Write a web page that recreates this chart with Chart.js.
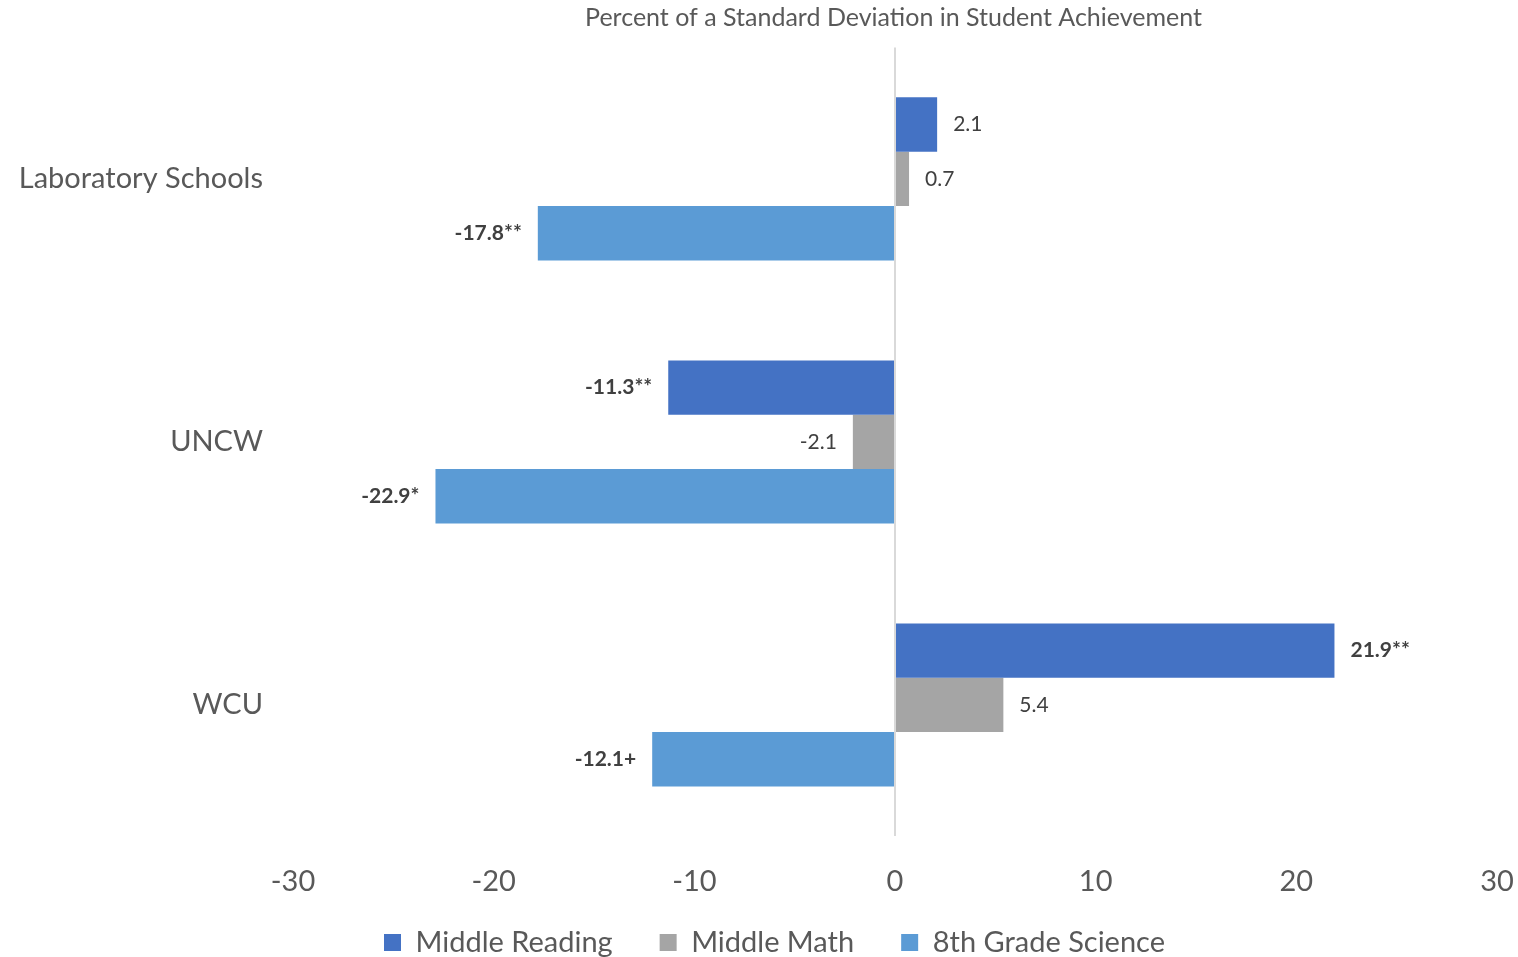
<!DOCTYPE html>
<html>
<head>
<meta charset="utf-8">
<script src="https://cdn.jsdelivr.net/npm/chart.js@4"></script>
<style>
  html, body { margin: 0; padding: 0; background: #fff; overflow: hidden; }
  #wrap { width: 1518px; height: 957px; }
</style>
</head>
<body>
<div id="wrap"><canvas id="grafico"></canvas></div>
<script>
var categorias = ['Laboratory Schools', 'UNCW', 'WCU'];
var leituraValores = [2.1, -11.3, 21.9];
var matematicaValores = [0.7, -2.1, 5.4];
var cienciaValores = [-17.8, -22.9, -12.1];
var leituraRotulos = ['2.1', '-11.3**', '21.9**'];
var matematicaRotulos = ['0.7', '-2.1', '5.4'];
var cienciaRotulos = ['-17.8**', '-22.9*', '-12.1+'];
// rotulos em negrito = significativos
var leituraNegrito = [false, true, true];
var matematicaNegrito = [false, false, false];
var cienciaNegrito = [true, true, true];

var fonte = 'Lato, "Open Sans", sans-serif';

var rotulosPlugin = {
    id: 'rotulos',
    afterDatasetsDraw: function(chart) {
        var ctx = chart.ctx;
        ctx.save();
        ctx.textBaseline = 'middle';
        ctx.fillStyle = '#404040';
        chart.data.datasets.forEach(function(ds, i) {
            var meta = chart.getDatasetMeta(i);
            meta.data.forEach(function(bar, j) {
                var valor = ds.data[j];
                ctx.font = (ds.negrito[j] ? 'bold ' : '') + '21px ' + fonte;
                if (valor >= 0) {
                    ctx.textAlign = 'left';
                    ctx.fillText(ds.rotulos[j], bar.x + 16, bar.y);
                } else {
                    ctx.textAlign = 'right';
                    ctx.fillText(ds.rotulos[j], bar.x - 16, bar.y);
                }
            });
        });
        ctx.restore();
    }
};

// ajusta titulo (centrado na area do grafico) e legenda (mais perto do eixo)
var ajustePlugin = {
    id: 'ajuste',
    afterLayout: function(chart) {
        var t = chart.titleBlock;
        if (t) { t.left += 145; t.right += 145; }
        var l = chart.legend;
        if (l) { l.top -= 45; l.left += 26; l.right += 26; }
    }
};

var ctx = document.getElementById('grafico').getContext('2d');

new Chart(ctx, {
    type: 'bar',
    data: {
        labels: categorias,
        datasets: [{
            label: 'Middle Reading',
            backgroundColor: '#4472C4',
            data: leituraValores,
            rotulos: leituraRotulos,
            negrito: leituraNegrito
        }, {
            label: 'Middle Math',
            backgroundColor: '#A5A5A5',
            data: matematicaValores,
            rotulos: matematicaRotulos,
            negrito: matematicaNegrito
        }, {
            label: '8th Grade Science',
            backgroundColor: '#5B9BD5',
            data: cienciaValores,
            rotulos: cienciaRotulos,
            negrito: cienciaNegrito
        }]
    },
    options: {
        indexAxis: 'y',
        responsive: true,
        maintainAspectRatio: false,
        animation: false,
        categoryPercentage: 0.62,
        barPercentage: 1,
        layout: { padding: { left: 0, right: 21, top: 0, bottom: 0 } },
        plugins: {
            title: {
                display: true,
                text: 'Percent of a Standard Deviation in Student Achievement',
                color: '#595959',
                font: { family: fonte, size: 25, weight: 'normal', lineHeight: 1.2 },
                padding: { top: 2, bottom: 14 }
            },
            legend: {
                position: 'bottom',
                maxHeight: 31,
                labels: {
                    color: '#595959',
                    font: { family: fonte, size: 29 },
                    boxWidth: 17,
                    boxHeight: 17,
                    padding: 47
                }
            },
            tooltip: { enabled: false }
        },
        scales: {
            x: {
                min: -30,
                max: 30,
                ticks: {
                    stepSize: 10,
                    color: '#595959',
                    font: { family: fonte, size: 29, lineHeight: 2.95 },
                    padding: 2
                },
                border: { display: false },
                grid: {
                    drawTicks: false,
                    lineWidth: 2,
                    color: function(c) {
                        return c.tick && c.tick.value === 0 ? '#D9D9D9' : 'rgba(0,0,0,0)';
                    }
                }
            },
            y: {
                ticks: {
                    color: '#595959',
                    font: { family: fonte, size: 29 },
                    padding: 30
                },
                border: { display: false },
                grid: { display: false, drawTicks: false },
                afterFit: function(scale) { scale.width = 293; }
            }
        }
    },
    plugins: [rotulosPlugin, ajustePlugin]
});
</script>
</body>
</html>
